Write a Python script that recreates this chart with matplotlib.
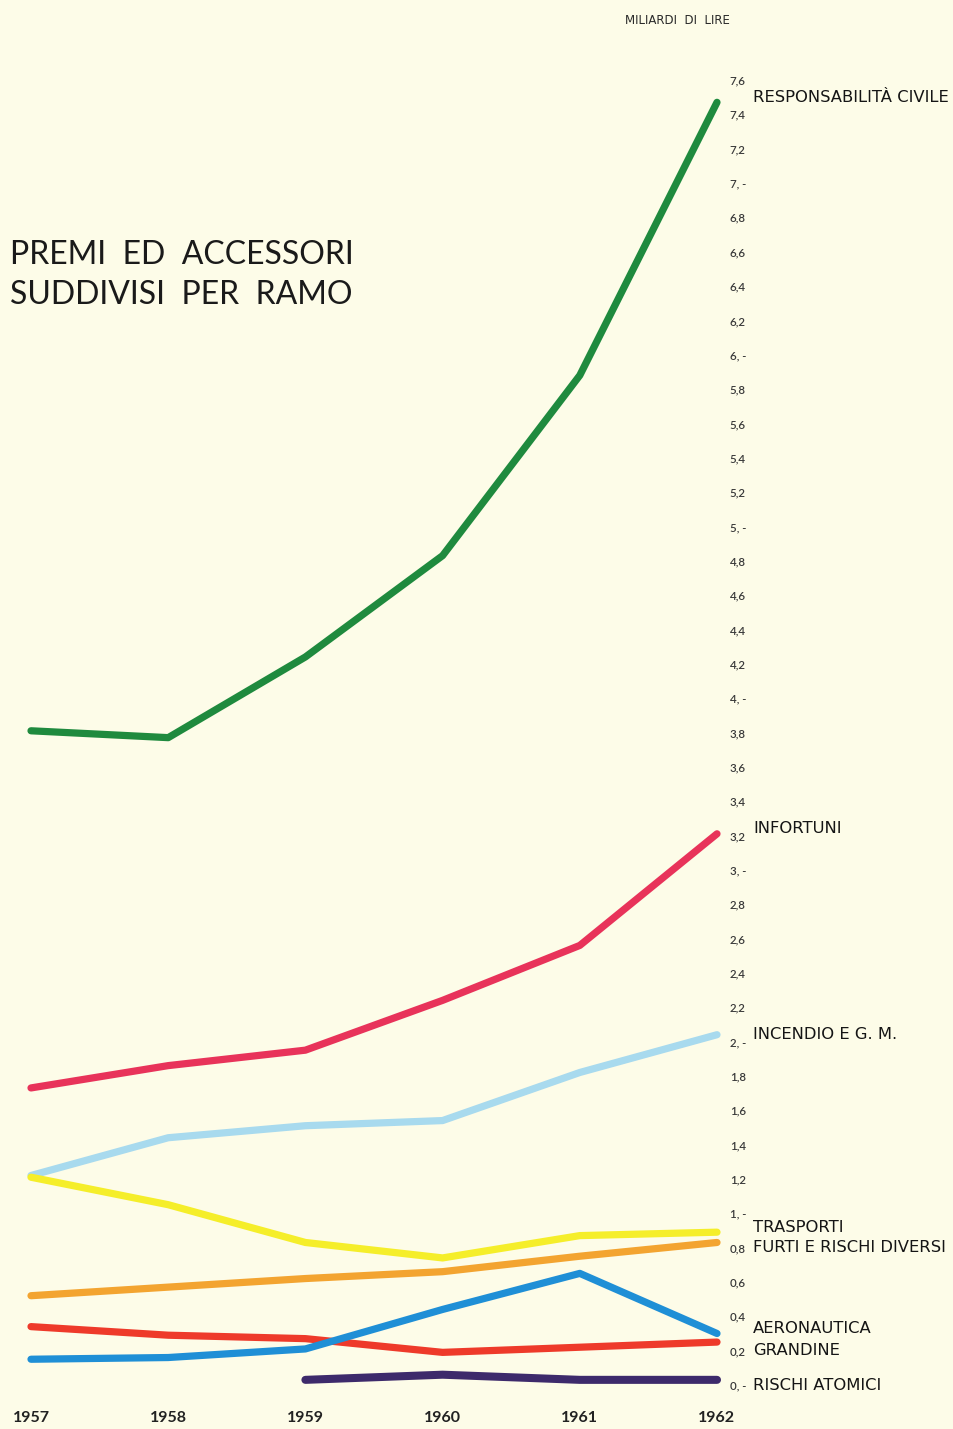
import matplotlib
matplotlib.use('Agg')
import matplotlib.pyplot as plt
from matplotlib.ticker import FuncFormatter, MultipleLocator

plt.rcParams['font.family'] = ['Lato', 'DejaVu Sans']

# dati (miliardi di lire)
years = [1957, 1958, 1959, 1960, 1961, 1962]
resp_civile = [3.81, 3.77, 4.24, 4.83, 5.88, 7.47]
infortuni = [1.73, 1.86, 1.95, 2.24, 2.56, 3.21]
incendio = [1.22, 1.44, 1.51, 1.54, 1.82, 2.04]
trasporti = [1.21, 1.05, 0.83, 0.74, 0.87, 0.89]
furti = [0.52, 0.57, 0.62, 0.66, 0.75, 0.83]
grandine = [0.34, 0.29, 0.27, 0.19, 0.22, 0.25]
aeronautica = [0.15, 0.16, 0.21, 0.44, 0.65, 0.30]
atom_years = [1959, 1960, 1961, 1962]
rischi_atomici = [0.03, 0.06, 0.03, 0.03]

labels = ['RESPONSABILITÀ CIVILE', 'INFORTUNI', 'INCENDIO E G. M.', 'TRASPORTI',
          'FURTI E RISCHI DIVERSI', 'AERONAUTICA', 'GRANDINE', 'RISCHI ATOMICI']
label_y = [7.50, 3.24, 2.04, 0.92, 0.80, 0.33, 0.20, 0.0]

bg = '#fdfce8'
W, H = 954, 1429
fig = plt.figure(figsize=(W / 100, H / 100), dpi=100, facecolor=bg)

# asse: 0 a y=1385px, 7.6 a y=80px, 1957 a x=31px, 1962 a x=717px
ax = fig.add_axes([0, 44 / H, 720 / W, (1385 - 80) / H])
ax.set_facecolor('none')
px_year = (717 - 31) / 5
ax.set_xlim(1957 - 31 / px_year, 1962 + 3 / px_year)
ax.set_ylim(0, 7.6)

lw = 5.2
ax.plot(atom_years, rischi_atomici, color='#3d2a6b', lw=lw + 0.6, solid_capstyle='round', clip_on=False, zorder=2)
ax.plot(years, grandine, color='#ee3a2a', lw=lw, solid_capstyle='round', clip_on=False, zorder=3)
ax.plot(years, aeronautica, color='#1f8fd6', lw=lw, solid_capstyle='round', clip_on=False, zorder=4)
ax.plot(years, furti, color='#f3a430', lw=lw, solid_capstyle='round', clip_on=False, zorder=5)
ax.plot(years, incendio, color='#a8daee', lw=lw, solid_capstyle='round', clip_on=False, zorder=5)
ax.plot(years, trasporti, color='#f5ee2a', lw=lw, solid_capstyle='round', clip_on=False, zorder=6)
ax.plot(years, infortuni, color='#e8335a', lw=lw, solid_capstyle='round', clip_on=False, zorder=6)
ax.plot(years, resp_civile, color='#1f8a3e', lw=lw, solid_capstyle='round', clip_on=False, zorder=7)

for s in ax.spines.values():
    s.set_visible(False)

ax.yaxis.tick_right()
ax.yaxis.set_major_locator(MultipleLocator(0.2))


def fmt(v, pos):
    r = round(v, 1)
    if abs(r - round(r)) < 1e-6:
        return '%d, -' % round(r)
    return ('%.1f' % r).replace('.', ',')


ax.yaxis.set_major_formatter(FuncFormatter(fmt))
ax.tick_params(axis='y', length=0, pad=7, labelsize=8.3, labelcolor='#3a3a3a')
for t in ax.get_yticklabels():
    t.set_fontweight('semibold')
ax.set_xticks(years)
ax.set_xticklabels([str(y) for y in years])
ax.tick_params(axis='x', length=0, pad=19, labelsize=11.5, labelcolor='#222222')
for t in ax.get_xticklabels():
    t.set_fontweight('bold')

for lab, y in zip(labels, label_y):
    ax.annotate(lab, xy=(1, y), xycoords=('axes fraction', 'data'),
                xytext=(24, 0), textcoords='offset points',
                ha='left', va='center', fontsize=11.8, color='#151515',
                family='DejaVu Sans', annotation_clip=False)

fig.text(625 / W, 1 - 20 / H, 'MILIARDI  DI  LIRE', fontsize=8.5, color='#2a2a2a',
         ha='left', va='center', family='DejaVu Sans')
fig.text(10 / W, 1 - 275 / H, 'PREMI  ED  ACCESSORI\nSUDDIVISI  PER  RAMO', fontsize=23,
         color='#1a1a1a', ha='left', va='center', linespacing=1.45)

fig.savefig('out.png', dpi=100, facecolor=bg)
